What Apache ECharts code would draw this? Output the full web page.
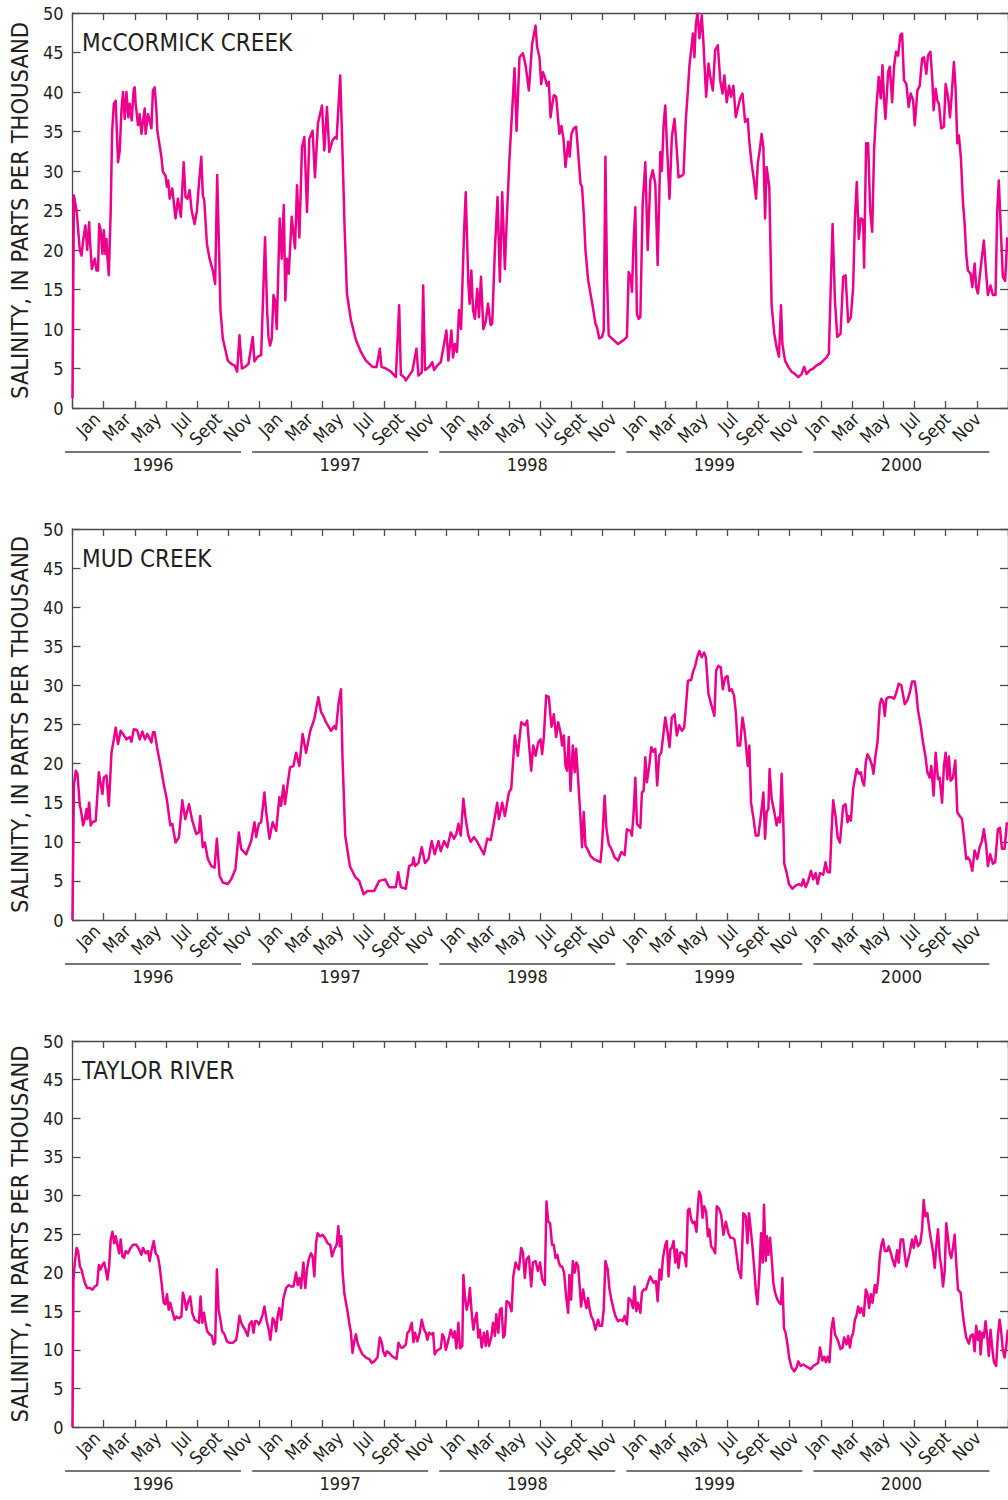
<!DOCTYPE html>
<html><head><meta charset="utf-8">
<script src="https://cdn.jsdelivr.net/npm/echarts@6/dist/echarts.min.js"></script>
<style>html,body{margin:0;padding:0;background:#fff}#c{width:1008px;height:1500px}</style>
</head><body><div id="c"></div>
<script>
const monthTickLabels = ['Jan','Mar','May','Jul','Sept','Nov'];
const yearLabels = ['1996','1997','1998','1999','2000'];
const stationNames = ['McCORMICK CREEK','MUD CREEK','TAYLOR RIVER'];
const yAxisTitle = 'SALINITY, IN PARTS PER THOUSAND';

// [months since 1 Jan 1996, salinity in parts per thousand]
const mccormickCreek = [
[0.00,1.2],[0.09,26.9],[0.26,25.0],[0.47,20.0],[0.58,19.3],[0.68,21.2],[0.83,23.1],[0.94,20.0],[1.07,23.5],[1.11,21.6],[1.24,17.6],[1.43,18.9],[1.54,17.4],[1.64,17.4],[1.71,23.3],[1.81,22.5],[1.92,19.5],[2.01,22.5],[2.11,19.5],[2.18,21.4],[2.24,19.1],[2.33,16.8],[2.45,25.0],[2.54,34.9],[2.65,38.5],[2.77,38.9],[2.92,31.1],[3.03,32.6],[3.14,37.7],[3.24,40.0],[3.35,36.6],[3.46,40.0],[3.58,36.8],[3.67,38.5],[3.80,36.4],[3.93,40.4],[3.99,40.6],[4.05,38.5],[4.20,35.8],[4.31,37.2],[4.42,34.7],[4.63,37.9],[4.69,34.7],[4.84,37.2],[4.95,36.4],[5.06,35.4],[5.16,40.2],[5.27,40.6],[5.38,37.7],[5.44,35.1],[5.59,33.2],[5.70,31.8],[5.80,29.9],[5.97,29.4],[6.06,28.0],[6.14,28.8],[6.23,26.5],[6.40,27.8],[6.61,24.0],[6.76,26.5],[6.95,24.2],[7.13,31.1],[7.25,26.7],[7.38,26.5],[7.51,27.6],[7.64,25.0],[7.83,23.3],[7.98,25.0],[8.09,27.9],[8.26,31.8],[8.36,26.9],[8.45,26.3],[8.62,20.8],[8.79,18.9],[9.00,17.4],[9.15,15.7],[9.28,29.5],[9.39,20.8],[9.49,12.4],[9.64,8.8],[9.81,7.3],[9.96,6.0],[10.18,5.6],[10.39,5.4],[10.56,4.6],[10.71,9.2],[10.86,5.0],[11.07,5.2],[11.29,5.6],[11.56,9.0],[11.67,5.9],[11.88,6.5],[12.10,6.7],[12.35,21.6],[12.48,12.4],[12.57,9.0],[12.67,7.9],[12.78,8.8],[12.89,14.3],[12.99,13.6],[13.10,10.0],[13.29,24.0],[13.42,18.9],[13.55,25.7],[13.65,13.6],[13.76,18.9],[13.87,17.0],[14.06,24.2],[14.27,20.2],[14.40,28.2],[14.55,21.6],[14.72,33.0],[14.87,34.3],[15.04,24.8],[15.19,34.1],[15.40,35.1],[15.55,29.2],[15.74,36.0],[16.00,38.3],[16.15,32.6],[16.32,38.1],[16.47,32.4],[16.68,33.9],[16.85,34.3],[16.94,34.1],[17.17,42.1],[17.32,32.2],[17.45,22.9],[17.60,14.5],[17.86,11.1],[18.18,8.6],[18.50,7.1],[18.82,6.0],[19.24,5.2],[19.50,5.2],[19.71,7.5],[19.82,5.2],[20.10,5.0],[20.42,4.6],[20.74,3.9],[20.95,13.0],[21.06,4.2],[21.27,3.9],[21.38,3.5],[21.59,4.1],[21.80,4.7],[22.06,7.5],[22.19,4.1],[22.40,4.5],[22.49,15.5],[22.61,4.8],[22.87,5.2],[23.08,5.8],[23.19,4.8],[23.40,5.4],[23.62,5.8],[23.83,8.1],[23.98,9.8],[24.11,6.0],[24.30,9.8],[24.41,6.4],[24.53,8.1],[24.66,7.1],[24.79,12.4],[24.92,10.0],[25.11,22.1],[25.22,27.3],[25.39,15.7],[25.47,13.2],[25.58,17.4],[25.69,12.4],[25.81,11.3],[25.96,15.1],[26.07,11.5],[26.20,16.6],[26.35,10.0],[26.50,10.9],[26.65,13.2],[26.82,10.5],[26.92,10.7],[27.09,20.0],[27.26,26.7],[27.41,16.0],[27.56,27.3],[27.73,17.6],[27.84,23.3],[28.03,31.8],[28.20,37.7],[28.35,43.0],[28.48,35.1],[28.67,44.4],[28.89,44.9],[29.06,43.4],[29.27,40.2],[29.48,46.1],[29.70,48.4],[29.80,45.7],[29.95,44.4],[30.06,41.0],[30.17,42.5],[30.29,41.9],[30.44,40.8],[30.55,41.3],[30.66,36.8],[30.76,38.3],[30.87,39.6],[31.02,39.4],[31.15,36.4],[31.23,34.7],[31.36,35.7],[31.49,34.1],[31.62,30.5],[31.79,33.7],[31.89,31.8],[32.00,34.7],[32.15,35.4],[32.30,35.6],[32.43,32.4],[32.58,28.4],[32.68,28.0],[32.79,24.6],[32.90,20.0],[33.07,16.2],[33.22,14.5],[33.37,12.8],[33.54,10.7],[33.64,10.2],[33.79,8.8],[33.96,9.0],[34.07,9.8],[34.18,31.8],[34.28,16.6],[34.39,9.2],[34.60,8.8],[34.82,8.4],[34.99,8.1],[35.20,8.4],[35.35,8.6],[35.56,9.0],[35.67,17.2],[35.80,16.6],[35.88,14.7],[35.99,21.2],[36.10,25.4],[36.20,11.9],[36.31,11.3],[36.42,11.5],[36.57,25.9],[36.74,31.1],[36.89,20.0],[37.06,28.8],[37.21,30.1],[37.38,28.4],[37.53,18.1],[37.70,32.4],[37.80,30.0],[37.91,35.8],[38.02,38.3],[38.12,33.5],[38.29,26.5],[38.44,34.3],[38.61,36.6],[38.76,32.6],[38.87,29.2],[39.08,29.4],[39.19,29.6],[39.34,36.6],[39.47,40.2],[39.57,43.4],[39.68,45.3],[39.79,47.4],[39.89,44.4],[39.98,48.6],[40.09,49.9],[40.21,46.8],[40.36,49.7],[40.47,46.1],[40.64,39.4],[40.79,43.6],[40.94,41.5],[41.07,40.2],[41.22,45.3],[41.39,45.9],[41.54,41.5],[41.69,39.8],[41.81,42.1],[41.96,38.7],[42.11,40.8],[42.24,39.4],[42.39,40.8],[42.54,36.8],[42.67,37.9],[42.82,39.2],[42.97,39.8],[43.14,36.2],[43.31,36.6],[43.41,33.7],[43.56,30.9],[43.71,28.8],[43.84,26.5],[43.95,30.9],[44.10,33.0],[44.20,34.7],[44.31,33.0],[44.42,24.0],[44.52,30.5],[44.69,28.0],[44.84,13.0],[45.01,9.4],[45.16,7.7],[45.31,6.5],[45.44,13.0],[45.53,8.1],[45.70,6.0],[45.91,5.2],[46.12,4.6],[46.34,4.3],[46.55,3.9],[46.76,4.3],[46.93,5.2],[47.08,4.3],[47.30,4.8],[47.51,5.0],[47.72,5.4],[47.94,5.6],[48.15,6.0],[48.36,6.4],[48.51,6.9],[48.62,14.5],[48.75,23.3],[48.90,13.6],[49.05,9.0],[49.26,9.4],[49.43,16.6],[49.58,16.8],[49.75,10.9],[49.92,11.5],[50.07,15.3],[50.18,23.8],[50.30,28.6],[50.43,21.4],[50.56,24.0],[50.71,23.8],[50.77,17.8],[50.90,33.5],[51.03,33.5],[51.16,25.0],[51.29,22.3],[51.41,32.6],[51.56,38.1],[51.71,41.9],[51.84,39.2],[51.95,43.4],[52.05,39.0],[52.14,36.6],[52.31,42.5],[52.42,43.2],[52.57,38.7],[52.69,43.2],[52.82,45.1],[52.95,44.6],[53.10,47.2],[53.21,47.4],[53.33,41.5],[53.48,41.0],[53.63,38.1],[53.76,39.8],[53.91,39.0],[54.02,35.8],[54.19,40.2],[54.34,40.8],[54.49,44.2],[54.61,44.4],[54.76,42.3],[54.87,44.6],[55.02,45.1],[55.15,41.5],[55.23,37.7],[55.36,40.4],[55.47,38.9],[55.57,38.5],[55.72,35.4],[55.89,35.6],[56.00,41.0],[56.15,39.4],[56.28,36.8],[56.41,40.2],[56.53,43.8],[56.64,40.4],[56.75,33.5],[56.85,34.5],[56.98,31.6],[57.11,26.1],[57.22,23.3],[57.32,19.5],[57.43,17.4],[57.60,17.0],[57.71,15.3],[57.86,18.3],[57.96,15.3],[58.07,14.5],[58.28,18.3],[58.45,21.2],[58.60,17.0],[58.71,14.3],[58.88,15.5],[59.03,14.3],[59.20,14.3],[59.31,25.0],[59.41,28.8],[59.56,21.6],[59.67,16.6],[59.82,16.1],[59.95,21.6]
];

const mudCreek = [
[0.00,0.0],[0.09,17.2],[0.21,19.1],[0.32,18.7],[0.47,14.6],[0.53,14.2],[0.68,12.1],[0.79,12.9],[0.90,14.2],[0.96,12.9],[1.07,15.0],[1.17,12.1],[1.28,12.5],[1.49,12.7],[1.69,18.9],[1.79,17.6],[1.92,16.1],[2.01,18.2],[2.18,18.5],[2.33,14.6],[2.50,21.4],[2.65,23.1],[2.77,24.6],[2.92,22.5],[3.09,24.2],[3.24,23.8],[3.46,23.1],[3.67,23.4],[3.78,22.8],[3.93,24.4],[4.14,24.3],[4.31,23.1],[4.48,24.1],[4.65,23.1],[4.80,23.8],[5.06,22.7],[5.16,24.0],[5.27,24.0],[5.42,22.1],[5.65,19.7],[5.85,17.4],[6.06,15.3],[6.27,12.1],[6.40,12.3],[6.61,9.9],[6.83,10.6],[7.04,15.3],[7.23,12.9],[7.47,14.8],[7.68,12.7],[7.94,11.0],[8.11,11.2],[8.19,13.3],[8.36,9.3],[8.49,9.9],[8.68,7.8],[8.90,6.9],[9.11,6.7],[9.26,10.4],[9.43,5.7],[9.64,4.8],[9.96,4.6],[10.18,5.2],[10.45,6.5],[10.67,11.2],[10.82,9.1],[11.14,8.4],[11.46,10.1],[11.67,12.5],[11.78,10.6],[11.95,12.3],[12.10,12.5],[12.31,16.3],[12.42,13.9],[12.63,10.4],[12.84,12.5],[13.06,11.4],[13.27,15.7],[13.38,14.6],[13.53,17.2],[13.63,14.8],[13.80,17.4],[13.95,19.5],[14.17,19.7],[14.34,21.4],[14.55,19.7],[14.76,23.8],[14.98,21.4],[15.25,24.2],[15.51,25.7],[15.77,28.5],[15.94,26.6],[16.09,26.1],[16.26,25.3],[16.58,24.2],[16.79,24.8],[16.90,24.4],[17.07,27.8],[17.22,29.5],[17.32,20.6],[17.49,10.8],[17.79,6.9],[18.13,5.5],[18.39,5.0],[18.67,3.3],[18.92,3.7],[19.35,3.7],[19.67,5.0],[20.05,5.2],[20.31,4.2],[20.74,4.2],[20.89,6.1],[21.06,4.2],[21.38,4.0],[21.59,6.9],[21.80,7.1],[21.87,8.0],[21.97,6.9],[22.19,7.3],[22.40,9.3],[22.61,7.3],[22.83,7.8],[23.04,10.1],[23.23,8.4],[23.47,10.1],[23.62,8.8],[23.83,10.1],[24.04,9.3],[24.26,11.2],[24.47,10.4],[24.62,11.0],[24.75,12.3],[24.90,10.8],[25.07,15.5],[25.22,12.9],[25.39,10.8],[25.54,10.0],[25.75,10.6],[25.96,10.0],[26.39,8.4],[26.60,10.4],[26.82,10.2],[27.03,12.5],[27.24,15.0],[27.35,12.9],[27.56,15.0],[27.73,13.3],[27.99,16.3],[28.14,16.8],[28.37,23.6],[28.56,21.0],[28.78,25.3],[29.01,24.9],[29.16,25.5],[29.42,19.1],[29.55,22.3],[29.70,21.0],[29.87,22.7],[30.02,23.1],[30.12,21.2],[30.23,23.4],[30.38,28.7],[30.55,28.5],[30.72,24.7],[30.87,26.3],[31.02,23.4],[31.15,25.3],[31.30,24.0],[31.40,22.3],[31.51,23.6],[31.62,19.7],[31.72,19.1],[31.83,23.4],[31.94,16.5],[32.09,22.3],[32.21,18.9],[32.30,21.9],[32.43,18.0],[32.58,13.1],[32.68,9.3],[32.79,13.8],[32.90,9.5],[33.07,8.9],[33.22,8.2],[33.43,7.8],[33.64,7.6],[33.86,7.4],[33.96,9.5],[34.13,15.9],[34.24,11.8],[34.39,9.7],[34.56,9.1],[34.77,8.0],[34.99,7.6],[35.20,8.7],[35.41,8.3],[35.56,11.6],[35.78,11.4],[35.88,10.8],[35.99,13.8],[36.10,18.2],[36.20,12.3],[36.42,11.8],[36.52,16.3],[36.63,16.5],[36.74,20.8],[36.84,17.6],[36.99,19.7],[37.12,22.1],[37.27,21.5],[37.38,21.9],[37.50,17.2],[37.63,21.0],[37.76,21.4],[37.91,24.0],[38.02,25.9],[38.14,24.4],[38.29,22.1],[38.44,25.9],[38.61,26.3],[38.76,23.6],[38.91,24.9],[39.08,24.2],[39.23,24.6],[39.34,27.2],[39.47,30.6],[39.68,30.7],[39.79,31.7],[39.94,32.5],[40.09,33.8],[40.21,34.4],[40.36,33.6],[40.51,34.2],[40.62,33.6],[40.79,28.9],[40.96,27.6],[41.17,26.1],[41.28,31.9],[41.43,32.5],[41.58,32.3],[41.71,29.5],[41.86,31.0],[42.01,31.2],[42.13,29.3],[42.28,29.5],[42.43,28.7],[42.54,26.6],[42.67,22.3],[42.82,22.3],[42.97,25.9],[43.09,24.4],[43.18,22.7],[43.31,19.7],[43.41,22.3],[43.52,15.0],[43.67,13.1],[43.82,10.8],[43.99,10.8],[44.12,12.9],[44.20,14.2],[44.31,16.3],[44.42,10.4],[44.52,13.8],[44.63,14.2],[44.71,19.3],[44.84,15.5],[45.01,13.8],[45.16,12.1],[45.27,13.1],[45.38,12.5],[45.48,18.7],[45.59,12.5],[45.65,7.2],[45.80,6.1],[45.95,4.6],[46.17,4.0],[46.38,4.4],[46.59,4.6],[46.76,4.4],[46.87,5.2],[47.02,4.2],[47.19,5.0],[47.36,6.3],[47.51,5.2],[47.66,6.0],[47.79,4.6],[47.94,6.0],[48.15,5.8],[48.30,7.4],[48.43,6.1],[48.58,6.1],[48.68,11.2],[48.79,15.3],[48.94,13.3],[49.07,10.6],[49.22,9.9],[49.43,14.6],[49.58,14.8],[49.71,12.5],[49.79,13.3],[49.92,12.7],[50.07,16.8],[50.22,18.5],[50.30,19.3],[50.43,18.7],[50.56,18.9],[50.65,17.8],[50.77,17.2],[50.88,20.2],[50.99,21.2],[51.14,20.6],[51.29,19.7],[51.37,18.7],[51.50,21.0],[51.63,22.7],[51.78,27.6],[51.88,28.3],[51.99,27.9],[52.10,26.1],[52.20,28.3],[52.35,28.5],[52.52,28.5],[52.69,28.3],[52.84,29.1],[52.99,30.2],[53.16,30.0],[53.38,27.6],[53.55,28.1],[53.70,29.1],[53.85,30.5],[54.02,30.5],[54.12,29.1],[54.23,26.8],[54.40,24.9],[54.55,22.7],[54.70,21.0],[54.83,18.9],[54.98,18.2],[55.08,19.7],[55.23,15.9],[55.36,21.4],[55.51,18.0],[55.62,18.2],[55.77,15.0],[55.89,19.7],[56.00,21.4],[56.11,18.0],[56.21,20.9],[56.32,17.8],[56.47,18.2],[56.62,20.4],[56.75,13.8],[56.90,13.3],[57.05,12.9],[57.17,10.8],[57.32,7.8],[57.43,8.0],[57.56,7.6],[57.71,6.3],[57.86,8.9],[58.03,7.8],[58.18,9.3],[58.33,10.1],[58.45,11.6],[58.60,9.5],[58.71,6.9],[58.86,8.4],[59.03,7.2],[59.18,7.4],[59.35,11.6],[59.48,11.8],[59.61,9.1],[59.78,9.1],[59.93,12.5]
];

const taylorRiver = [
[0.00,0.0],[0.06,19.1],[0.15,21.3],[0.26,23.2],[0.36,22.8],[0.47,20.8],[0.58,20.4],[0.68,19.5],[0.79,18.7],[0.94,18.0],[1.11,18.0],[1.28,17.8],[1.43,18.2],[1.58,18.4],[1.69,21.0],[1.79,20.4],[1.92,21.0],[2.03,21.3],[2.13,20.4],[2.24,19.1],[2.35,20.8],[2.45,24.3],[2.56,25.3],[2.67,23.8],[2.77,24.7],[2.88,23.6],[2.99,22.5],[3.09,24.3],[3.20,22.1],[3.31,21.9],[3.41,22.8],[3.56,22.5],[3.73,23.2],[3.88,23.6],[4.10,23.6],[4.27,23.0],[4.42,22.3],[4.52,23.2],[4.69,22.5],[4.84,22.8],[4.95,21.5],[5.06,22.8],[5.21,24.1],[5.33,22.5],[5.48,22.1],[5.59,20.8],[5.70,18.9],[5.85,16.1],[5.95,15.9],[6.06,17.2],[6.17,15.2],[6.27,16.1],[6.40,15.0],[6.55,13.9],[6.66,14.3],[6.83,14.1],[6.98,14.3],[7.08,17.4],[7.19,16.5],[7.30,15.2],[7.40,16.1],[7.55,16.9],[7.68,14.8],[7.83,13.9],[7.98,13.7],[8.11,13.5],[8.21,16.9],[8.32,13.5],[8.43,14.8],[8.53,13.5],[8.64,12.4],[8.79,12.0],[8.94,11.8],[9.05,10.7],[9.15,10.9],[9.26,20.4],[9.37,15.2],[9.47,14.1],[9.60,12.4],[9.75,12.0],[9.90,11.1],[10.07,10.9],[10.28,10.9],[10.50,11.3],[10.60,12.6],[10.71,14.4],[10.82,13.5],[10.92,13.1],[11.07,12.6],[11.24,11.8],[11.35,13.3],[11.50,13.7],[11.61,12.2],[11.71,13.7],[11.84,13.7],[11.95,13.3],[12.05,13.7],[12.20,14.6],[12.31,15.6],[12.46,13.7],[12.59,12.6],[12.69,11.3],[12.84,14.1],[12.95,13.7],[13.06,12.4],[13.16,14.4],[13.27,15.4],[13.38,13.9],[13.53,16.7],[13.70,18.0],[13.87,18.4],[14.02,18.2],[14.17,18.2],[14.34,20.0],[14.44,18.4],[14.55,19.3],[14.66,18.0],[14.81,21.3],[14.93,18.0],[15.04,20.4],[15.15,21.7],[15.30,22.5],[15.40,22.1],[15.51,19.5],[15.62,23.8],[15.72,25.1],[15.87,24.7],[16.04,24.9],[16.19,24.5],[16.36,23.8],[16.53,23.6],[16.64,22.1],[16.79,23.0],[16.94,23.6],[17.05,26.0],[17.15,23.4],[17.24,24.7],[17.32,20.2],[17.43,17.4],[17.54,16.1],[17.64,15.0],[17.75,13.5],[17.86,12.2],[17.96,9.6],[18.07,11.1],[18.18,12.0],[18.28,10.9],[18.39,10.3],[18.60,9.4],[18.82,9.0],[19.03,8.8],[19.20,8.3],[19.35,8.5],[19.56,9.0],[19.71,11.6],[19.84,10.9],[19.93,9.8],[20.05,9.2],[20.16,9.8],[20.31,9.6],[20.48,9.2],[20.63,9.0],[20.78,8.8],[20.91,10.9],[21.06,10.3],[21.21,10.3],[21.38,10.7],[21.48,12.2],[21.59,12.4],[21.76,13.5],[21.87,11.0],[21.97,12.2],[22.12,11.1],[22.27,12.2],[22.40,13.9],[22.55,12.6],[22.66,12.2],[22.76,11.3],[22.87,12.2],[23.02,12.0],[23.13,12.2],[23.23,9.4],[23.34,9.8],[23.47,10.0],[23.62,10.2],[23.72,12.0],[23.83,11.6],[23.94,10.0],[24.04,10.7],[24.15,11.6],[24.26,12.6],[24.41,11.6],[24.51,12.4],[24.62,10.2],[24.75,13.5],[24.85,10.2],[25.00,10.5],[25.07,19.7],[25.17,16.9],[25.28,15.2],[25.39,16.1],[25.49,18.0],[25.60,14.8],[25.71,12.6],[25.81,13.9],[25.92,14.8],[26.03,11.6],[26.13,12.6],[26.24,10.3],[26.39,12.2],[26.50,10.5],[26.60,12.4],[26.71,10.5],[26.86,11.6],[26.97,13.5],[27.09,11.8],[27.18,14.6],[27.31,12.2],[27.41,15.2],[27.52,15.4],[27.63,11.6],[27.73,12.0],[27.84,16.3],[27.99,16.1],[28.16,15.0],[28.27,19.5],[28.42,21.3],[28.52,20.8],[28.63,20.4],[28.78,23.2],[28.89,22.6],[29.01,19.3],[29.12,21.7],[29.27,22.1],[29.42,18.2],[29.53,21.3],[29.70,21.5],[29.85,20.2],[29.99,21.3],[30.12,19.1],[30.29,18.4],[30.40,29.2],[30.51,26.6],[30.63,26.4],[30.76,23.6],[30.87,23.6],[30.98,21.9],[31.10,22.3],[31.19,21.3],[31.30,20.8],[31.40,20.8],[31.53,20.0],[31.66,16.9],[31.79,14.8],[31.87,19.7],[31.98,16.5],[32.09,21.5],[32.21,20.0],[32.32,21.3],[32.43,20.8],[32.53,18.2],[32.62,15.6],[32.75,17.8],[32.85,16.5],[32.96,15.4],[33.07,16.7],[33.17,15.2],[33.28,14.3],[33.39,13.9],[33.54,12.6],[33.71,13.9],[33.81,13.1],[33.96,13.1],[34.07,15.2],[34.18,21.5],[34.33,20.4],[34.43,18.0],[34.56,16.5],[34.71,15.2],[34.82,14.4],[34.99,13.7],[35.14,13.9],[35.29,13.7],[35.41,14.4],[35.56,13.3],[35.67,16.7],[35.84,16.3],[35.95,15.4],[36.05,18.2],[36.16,15.0],[36.27,16.1],[36.42,14.8],[36.52,17.4],[36.63,17.8],[36.78,17.8],[36.91,18.7],[37.06,19.5],[37.16,19.1],[37.27,18.7],[37.42,18.9],[37.53,16.3],[37.65,20.4],[37.76,19.1],[37.87,21.9],[38.02,23.6],[38.12,24.1],[38.23,19.5],[38.34,23.0],[38.44,23.2],[38.55,24.1],[38.66,21.3],[38.76,23.0],[38.87,20.6],[38.98,22.6],[39.08,22.6],[39.25,22.3],[39.36,20.8],[39.47,28.1],[39.57,28.3],[39.68,26.9],[39.79,26.4],[39.89,26.6],[40.02,25.3],[40.11,28.6],[40.19,30.5],[40.30,29.9],[40.41,27.1],[40.51,28.6],[40.64,27.9],[40.75,24.7],[40.85,25.6],[40.96,23.4],[41.11,23.0],[41.22,22.5],[41.32,28.6],[41.47,28.3],[41.60,27.5],[41.75,24.9],[41.90,26.6],[42.07,25.1],[42.20,24.5],[42.33,24.5],[42.45,24.3],[42.56,22.8],[42.71,20.4],[42.88,19.3],[43.03,27.7],[43.18,27.3],[43.29,23.8],[43.39,27.7],[43.50,25.6],[43.61,23.4],[43.73,20.4],[43.82,17.8],[43.93,15.9],[44.05,19.7],[44.16,25.1],[44.27,21.3],[44.35,28.8],[44.46,21.5],[44.54,24.7],[44.63,22.3],[44.74,24.5],[44.84,21.9],[44.95,18.7],[45.06,17.4],[45.21,16.5],[45.33,16.1],[45.44,15.9],[45.53,19.3],[45.63,12.8],[45.74,12.2],[45.87,10.5],[45.97,8.9],[46.12,7.7],[46.29,7.2],[46.44,7.7],[46.55,8.5],[46.70,7.9],[46.87,8.1],[47.02,7.9],[47.19,7.7],[47.36,7.5],[47.51,7.9],[47.66,8.1],[47.83,8.3],[47.94,10.3],[48.09,8.6],[48.21,9.1],[48.32,8.4],[48.43,9.1],[48.55,8.4],[48.68,12.8],[48.79,14.1],[48.90,12.0],[49.00,11.6],[49.11,11.1],[49.26,10.1],[49.39,10.3],[49.49,11.6],[49.64,10.7],[49.75,11.8],[49.86,10.3],[49.96,11.6],[50.07,12.2],[50.18,13.9],[50.28,14.4],[50.39,15.6],[50.50,14.8],[50.60,15.4],[50.75,14.4],[50.88,17.8],[50.99,17.2],[51.09,15.4],[51.20,17.2],[51.31,16.1],[51.46,18.4],[51.56,17.4],[51.67,19.1],[51.78,22.1],[51.88,23.6],[51.99,24.3],[52.10,22.8],[52.25,22.8],[52.35,23.4],[52.48,22.6],[52.59,21.7],[52.74,20.8],[52.89,22.9],[52.99,21.3],[53.12,24.3],[53.27,24.3],[53.38,22.3],[53.48,20.8],[53.59,21.7],[53.70,22.6],[53.85,24.3],[53.95,23.2],[54.08,24.7],[54.23,23.4],[54.38,23.9],[54.49,25.6],[54.59,29.4],[54.70,27.3],[54.83,27.7],[54.93,26.0],[55.04,24.5],[55.19,22.8],[55.30,20.6],[55.40,23.4],[55.51,25.6],[55.62,22.1],[55.72,20.8],[55.83,18.2],[55.94,20.2],[56.04,26.4],[56.15,24.5],[56.26,22.6],[56.36,21.9],[56.47,23.2],[56.58,24.9],[56.68,21.3],[56.79,17.8],[56.96,17.4],[57.07,15.2],[57.17,13.5],[57.32,11.6],[57.49,10.8],[57.60,11.8],[57.75,12.0],[57.86,9.8],[57.96,13.1],[58.07,11.3],[58.18,12.4],[58.24,9.4],[58.35,12.2],[58.45,11.6],[58.56,13.7],[58.67,11.6],[58.77,9.2],[58.88,12.6],[58.99,10.2],[59.09,8.5],[59.24,7.9],[59.35,11.8],[59.46,13.9],[59.56,12.4],[59.67,10.0],[59.78,9.0],[59.88,10.4],[59.99,12.6]
];

const FONT = "'Liberation Sans Narrow','DejaVu Sans Condensed','Arial Narrow',sans-serif";
const AX = '#4a4a4a';
const TXT = '#231f20';
const LINE = '#EC008C';
const PLOT_LEFT = 71, PLOT_WIDTH = 937.5;
const panels = [
  { top: 13, height: 395, data: mccormickCreek },
  { top: 529, height: 391, data: mudCreek },
  { top: 1041, height: 386, data: taylorRiver }
];

const grid = [], xAxis = [], yAxis = [], series = [], title = [];
const axisLineStyle = { color: AX, width: 1.3 };

panels.forEach((p, i) => {
  const g = grid.length;
  grid.push({ left: PLOT_LEFT, top: p.top, width: PLOT_WIDTH, height: p.height });
  grid.push({ left: PLOT_LEFT + 26, top: p.top, width: PLOT_WIDTH, height: p.height });
  const xb = xAxis.length;
  const baseX = { type: 'value', min: 0, max: 60, interval: 2, splitLine: { show: false },
    axisLine: { show: true, onZero: false, lineStyle: axisLineStyle },
    axisTick: { show: true, inside: true, length: 7, lineStyle: axisLineStyle },
    axisLabel: { show: false } };
  xAxis.push(Object.assign({ gridIndex: g, position: 'bottom' }, baseX));
  xAxis.push(Object.assign({ gridIndex: g, position: 'top' }, baseX));
  xAxis.push({ gridIndex: g + 1, type: 'value', min: 0, max: 60, interval: 2, position: 'bottom',
    axisLine: { show: false }, axisTick: { show: false }, splitLine: { show: false },
    axisLabel: { show: true, rotate: 45, margin: 8, fontSize: 18, fontFamily: FONT, color: TXT,
      showMaxLabel: false,
      formatter: v => (v >= 60 ? '' : monthTickLabels[Math.round(v / 2) % 6]) } });
  const yb = yAxis.length;
  const baseY = { type: 'value', min: 0, max: 50, interval: 5, splitLine: { show: false },
    axisLine: { show: true, onZero: false, lineStyle: axisLineStyle },
    axisTick: { show: true, inside: true, length: 8, lineStyle: axisLineStyle } };
  yAxis.push(Object.assign({ gridIndex: g, position: 'left',
    name: yAxisTitle, nameLocation: 'middle', nameGap: 39,
    nameTextStyle: { fontSize: 23.5, fontFamily: FONT, color: TXT },
    axisLabel: { show: true, margin: 9, fontSize: 18, fontFamily: FONT, color: TXT } }, baseY));
  yAxis.push(Object.assign({ gridIndex: g, position: 'right', axisLabel: { show: false } }, baseY));
  yAxis.push({ gridIndex: g + 1, type: 'value', min: 0, max: 50, show: false });

  series.push({ type: 'line', xAxisIndex: xb, yAxisIndex: yb, data: p.data,
    showSymbol: false, symbol: 'none', animation: false, clip: true,
    lineStyle: { color: LINE, width: 2.5, join: 'round' }, itemStyle: { color: LINE } });

  series.push({ type: 'custom', xAxisIndex: xb, yAxisIndex: yb, animation: false, silent: true,
    data: yearLabels.map((y, k) => [k * 12, 0]),
    renderItem: (params, api) => {
      const a = api.coord([api.value(0), 0]);
      const b = api.coord([api.value(0) + 12, 0]);
      const mid = (a[0] + b[0]) / 2 - 13;
      const y = a[1] + 44;
      return { type: 'group', children: [
        { type: 'line', shape: { x1: mid - 88, y1: y, x2: mid + 88, y2: y },
          style: { stroke: AX, lineWidth: 1.3 } },
        { type: 'text', x: mid, y: y + 12,
          style: { text: yearLabels[params.dataIndex], fill: TXT, fontSize: 18, fontFamily: FONT,
            align: 'center', verticalAlign: 'middle', textAlign: 'center', textVerticalAlign: 'middle' } }
      ] };
    } });

  title.push({ text: stationNames[i], left: 77, top: p.top + 13,
    textStyle: { fontSize: 24, fontWeight: 'normal', fontFamily: FONT, color: TXT } });
});

const chart = echarts.init(document.getElementById('c'), null, { renderer: 'svg' });
chart.setOption({ animation: false, backgroundColor: '#fff', title, grid, xAxis, yAxis, series });
</script>
</body></html>
